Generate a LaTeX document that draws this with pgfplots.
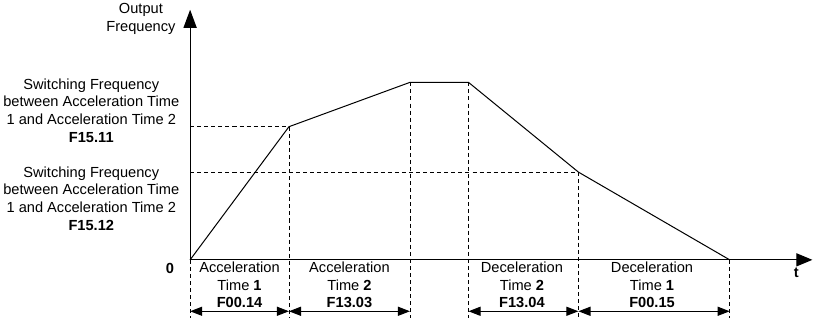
\documentclass[border=0pt]{standalone}
\usepackage{fontspec}
\setmainfont{Liberation Sans}
\usepackage{pgfplots}
\pgfplotsset{compat=1.18}
\usetikzlibrary{arrows.meta}
\begin{document}
\begin{tikzpicture}[every node/.style={font=\fontsize{14.5bp}{17.5bp}\selectfont}]
\begin{axis}[width=813bp, height=322bp, scale only axis,
  xmin=-195, xmax=618, ymin=-60, ymax=262, axis lines=none, clip=false]
% profile
\addplot[black, line width=1bp] coordinates {(0,0) (98,132) (218,176) (276,176) (385,87) (535,0)};
% dashed guides
\addplot[black, line width=0.9bp, dash pattern=on 4bp off 3bp] coordinates {(0,132) (98,132)};
\addplot[black, line width=0.9bp, dash pattern=on 4bp off 3bp] coordinates {(0,87) (385,87)};
\addplot[black, line width=0.9bp, dash pattern=on 4bp off 3bp] coordinates {(0,0) (0,-58)};
\addplot[black, line width=0.9bp, dash pattern=on 4bp off 3bp] coordinates {(98,132) (98,-58)};
\addplot[black, line width=0.9bp, dash pattern=on 4bp off 3bp] coordinates {(218,176) (218,-58)};
\addplot[black, line width=0.9bp, dash pattern=on 4bp off 3bp] coordinates {(276,176) (276,-58)};
\addplot[black, line width=0.9bp, dash pattern=on 4bp off 3bp] coordinates {(385,87) (385,-58)};
\addplot[black, line width=0.9bp, dash pattern=on 4bp off 3bp] coordinates {(535,0) (535,-58)};
% axes
\draw[black, line width=1.2bp, -{Triangle[length=18bp,width=13bp]}] (axis cs:0,0) -- (axis cs:0,248);
\draw[black, line width=1.2bp, -{Triangle[length=16bp,width=13bp]}] (axis cs:0,0) -- (axis cs:617,0);
% interval arrows
\foreach \a/\b in {0/98, 98/218, 276/385, 385/535}{
  \edef\tmp{\noexpand\draw[black, line width=1.1bp, {Triangle[length=12bp,width=9bp]}-{Triangle[length=12bp,width=9bp]}] (axis cs:\a,-51) -- (axis cs:\b,-51);}
  \tmp
}
% labels
\node[align=center, anchor=east] at (axis cs:-11,239) {Output\\Frequency};
\node[align=center] at (axis cs:-98,148) {Switching Frequency\\between Acceleration Time\\1 and Acceleration Time 2\\\textbf{F15.11}};
\node[align=center] at (axis cs:-98,61) {Switching Frequency\\between Acceleration Time\\1 and Acceleration Time 2\\\textbf{F15.12}};
\node at (axis cs:-20,-8.5) {\textbf{0}};
\node at (axis cs:601,-12.5) {\textbf{t}};
\node[align=center] at (axis cs:49,-25) {Acceleration\\Time \textbf{1}\\\textbf{F00.14}};
\node[align=center] at (axis cs:158,-25) {Acceleration\\Time \textbf{2}\\\textbf{F13.03}};
\node[align=center] at (axis cs:329,-25) {Deceleration\\Time \textbf{2}\\\textbf{F13.04}};
\node[align=center] at (axis cs:458,-25) {Deceleration\\Time \textbf{1}\\\textbf{F00.15}};
\end{axis}
\end{tikzpicture}
\end{document}
